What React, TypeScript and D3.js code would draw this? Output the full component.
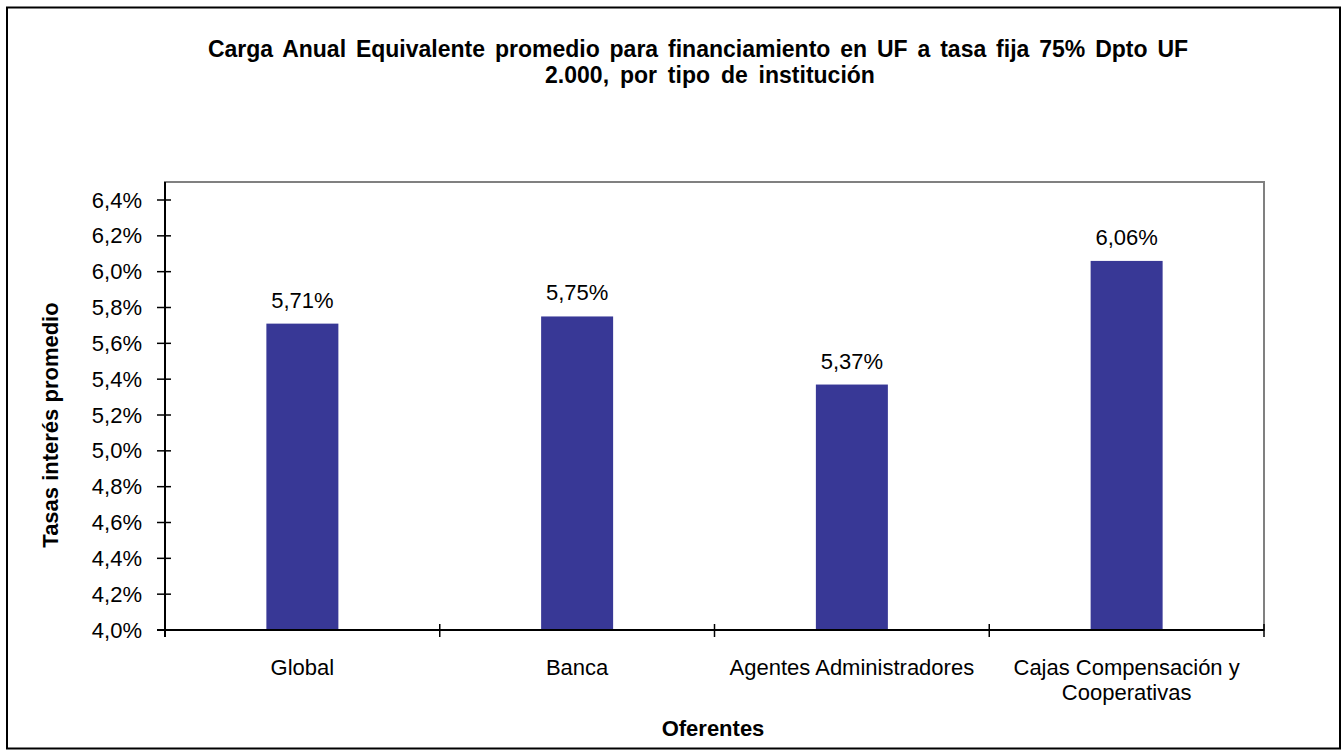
import React from "react";
import * as d3 from "d3";

const categories: string[][] = [
  ["Global"],
  ["Banca"],
  ["Agentes Administradores"],
  ["Cajas Compensación y", "Cooperativas"],
];
const values: number[] = [5.71, 5.75, 5.37, 6.06];
const valueLabels: string[] = ["5,71%", "5,75%", "5,37%", "6,06%"];
const yTicks: number[] = [4.0, 4.2, 4.4, 4.6, 4.8, 5.0, 5.2, 5.4, 5.6, 5.8, 6.0, 6.2, 6.4];
const titleLines: string[] = [
  "Carga Anual Equivalente promedio para financiamiento en UF a tasa fija 75% Dpto UF",
  "2.000, por tipo de institución",
];
const xTitle = "Oferentes";
const yTitle = "Tasas interés promedio";

const W = 1342;
const H = 751;
const plotL = 165;
const plotR = 1264;
const plotT = 182;
const plotB = 630;
const barColor = "#383896";
const font = "'Liberation Sans', Arial, sans-serif";
const fs = 22;

export default function App() {
  const y = d3.scaleLinear().domain([4.0, 6.4]).range([plotB, 200]);
  const x = d3
    .scaleBand<number>()
    .domain(d3.range(categories.length))
    .range([plotL, plotR])
    .paddingInner(0)
    .paddingOuter(0);
  const bw = x.bandwidth();
  const barW = 72;
  const fmt = (v: number) => v.toFixed(1).replace(".", ",") + "%";

  return (
    <svg
      width={W}
      height={H}
      style={{ position: "absolute", left: 0, top: 0, background: "#fff" }}
      fontFamily={font}
    >
      <rect x={0} y={0} width={W} height={H} fill="#fff" />
      <rect x={7} y={7.5} width={1333} height={741} fill="none" stroke="#000" strokeWidth={2} />

      {/* title */}
      <text x={698} y={57} textAnchor="middle" fontSize={23} fontWeight="bold" fill="#000" wordSpacing={3.5}>
        {titleLines[0]}
      </text>
      <text x={710} y={83} textAnchor="middle" fontSize={23} fontWeight="bold" fill="#000" wordSpacing={4.5}>
        {titleLines[1]}
      </text>

      {/* plot frame */}
      <rect x={plotL} y={plotT} width={plotR - plotL} height={plotB - plotT} fill="none" stroke="#808080" strokeWidth={2} />

      {/* bars */}
      {values.map((v, i) => {
        const cx = (x(i) as number) + bw / 2;
        return (
          <g key={i}>
            <rect x={cx - barW / 2} y={y(v)} width={barW} height={plotB - y(v)} fill={barColor} />
            <text x={cx} y={y(v) - 16} textAnchor="middle" fontSize={fs} fill="#000">
              {valueLabels[i]}
            </text>
          </g>
        );
      })}

      {/* y axis */}
      <line x1={plotL} y1={plotT} x2={plotL} y2={plotB + 7} stroke="#000" strokeWidth={2} />
      {yTicks.map((t) => (
        <g key={t}>
          <line x1={plotL - 8} x2={plotL + 6} y1={y(t)} y2={y(t)} stroke="#000" strokeWidth={1.5} />
          <text x={142} y={y(t) + 7.5} textAnchor="end" fontSize={fs} fill="#000">
            {fmt(t)}
          </text>
        </g>
      ))}

      {/* x axis */}
      <line x1={plotL - 8} x2={plotR} y1={plotB} y2={plotB} stroke="#000" strokeWidth={2} />
      {d3.range(categories.length + 1).map((i) => {
        const xx = i < categories.length ? (x(i) as number) : plotR;
        return <line key={i} x1={xx} x2={xx} y1={plotB - 6} y2={plotB + 7} stroke="#000" strokeWidth={1.5} />;
      })}
      {categories.map((lines, i) => {
        const cx = (x(i) as number) + bw / 2;
        return (
          <text key={i} x={cx} textAnchor="middle" fontSize={fs} fill="#000">
            {lines.map((l, j) => (
              <tspan key={j} x={cx} y={675 + j * 25}>
                {l}
              </tspan>
            ))}
          </text>
        );
      })}

      {/* axis titles */}
      <text x={713} y={736} textAnchor="middle" fontSize={fs} fontWeight="bold" fill="#000">
        {xTitle}
      </text>
      <text
        transform={`translate(58,425) rotate(-90)`}
        textAnchor="middle"
        fontSize={fs}
        fontWeight="bold"
        fill="#000"
      >
        {yTitle}
      </text>
    </svg>
  );
}
